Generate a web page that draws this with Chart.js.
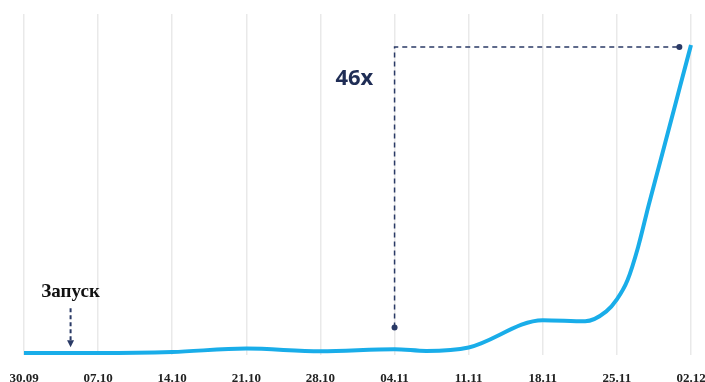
<!DOCTYPE html>
<html lang="ru">
<head>
    <meta charset="UTF-8">
    <title>Рост</title>
    <script src="https://cdn.jsdelivr.net/npm/chart.js"></script>
    <style>
        html, body { margin: 0; padding: 0; background: #fff; overflow: hidden; }
        .chart-container { position: relative; width: 708px; height: 401px; }
    </style>
</head>
<body>
    <div class="chart-container">
        <canvas id="growthChart"></canvas>
    </div>

    <script>
        // weekly tick labels, one every 7 days starting at 30.09
        const tickLabels = ["30.09", "07.10", "14.10", "21.10", "28.10", "04.11", "11.11", "18.11", "25.11", "02.12"];

        // day offsets from 30.09 and the metric on those days
        const days   = [0,   7,   14,  21,  28,  35,  38,  42,  49,   53,   55,   56,   57,   58,   59,   60,   61,   62,   63];
        const values = [0.7, 0.7, 1.0, 2.0, 1.2, 1.8, 1.3, 2.3, 10.3, 10.0, 12.9, 16.4, 22.0, 31.7, 44.0, 55.7, 67.4, 79.2, 90.9];

        // comparison guide: from 04.11 up and across to 02.12
        const guideDays   = [35,  35,   61.9];
        const guideValues = [8.2, 90.3, 90.3];
        const guideLabel = "46x";

        const launchLabel = "Запуск";
        const launchDay = 4.4;
        const launchArrow = [13.8, 2.4]; // from, to

        const navy = "#2a3a66";

        const annotations = {
            id: "annotations",
            afterDatasetsDraw(chart) {
                const { ctx, scales: { x, y } } = chart;
                ctx.save();

                // "46x"
                ctx.fillStyle = "#1f2d55";
                ctx.font = "bold 22px 'Open Sans', sans-serif";
                ctx.textAlign = "center";
                ctx.textBaseline = "middle";
                ctx.fillText(guideLabel, x.getPixelForValue(31.2), y.getPixelForValue(81));

                // launch label
                const lx = x.getPixelForValue(launchDay);
                ctx.fillStyle = "#111";
                ctx.font = "bold 19px 'Liberation Serif', 'Times New Roman', serif";
                ctx.fillText(launchLabel, lx, y.getPixelForValue(18.4));

                // dashed arrow down to the line
                const y1 = y.getPixelForValue(launchArrow[0]);
                const y2 = y.getPixelForValue(launchArrow[1]);
                ctx.strokeStyle = navy;
                ctx.lineWidth = 2;
                ctx.setLineDash([4, 3]);
                ctx.beginPath();
                ctx.moveTo(lx, y1);
                ctx.lineTo(lx, y2 - 6);
                ctx.stroke();
                ctx.setLineDash([]);
                ctx.fillStyle = navy;
                ctx.beginPath();
                ctx.moveTo(lx - 3.5, y2 - 7);
                ctx.lineTo(lx + 3.5, y2 - 7);
                ctx.lineTo(lx, y2);
                ctx.closePath();
                ctx.fill();

                ctx.restore();
            }
        };

        const ctx = document.getElementById("growthChart").getContext("2d");
        new Chart(ctx, {
            type: "line",
            data: {
                datasets: [
                    {
                        data: days.map((d, i) => ({ x: d, y: values[i] })),
                        borderColor: "#19ade9",
                        borderWidth: 4,
                        pointRadius: 0,
                        cubicInterpolationMode: "monotone",
                        clip: false,
                        order: 1
                    },
                    {
                        data: guideDays.map((d, i) => ({ x: d, y: guideValues[i] })),
                        borderColor: navy,
                        borderWidth: 1.5,
                        borderDash: [5, 4],
                        pointRadius: [3, 0, 3],
                        pointBackgroundColor: navy,
                        pointBorderWidth: 0,
                        tension: 0,
                        clip: false,
                        order: 0
                    }
                ]
            },
            options: {
                responsive: true,
                maintainAspectRatio: false,
                animation: false,
                layout: { padding: { left: 24, right: 17, top: 14, bottom: 0 } },
                plugins: {
                    legend: { display: false },
                    tooltip: { enabled: false }
                },
                scales: {
                    x: {
                        type: "linear",
                        min: 0,
                        max: 63,
                        border: { display: false },
                        grid: { color: "#e9e9e9", lineWidth: 1.5, drawTicks: false },
                        ticks: {
                            stepSize: 7,
                            padding: 15,
                            maxRotation: 0,
                            color: "#222",
                            font: { family: "'Liberation Serif', 'Times New Roman', serif", size: 13, weight: "bold" },
                            callback: (v) => tickLabels[v / 7]
                        },
                        // edge labels may hang outside; the layout padding handles the margins
                        afterFit(scale) {
                            scale.paddingLeft = 0;
                            scale.paddingRight = 0;
                        }
                    },
                    y: {
                        display: false,
                        min: 0,
                        max: 100
                    }
                }
            },
            plugins: [annotations]
        });
    </script>
</body>
</html>
